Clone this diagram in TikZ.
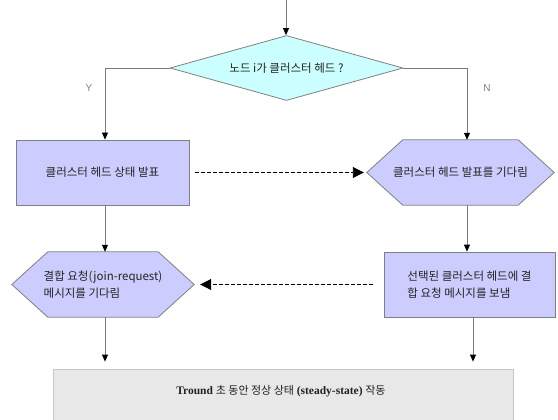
\documentclass[tikz,border=0pt]{standalone}
\usepackage{fontspec}
\setmainfont{Liberation Sans}
\newfontfamily\kr{Noto Sans CJK KR}
\newfontfamily\tms{Liberation Serif}
\usetikzlibrary{arrows.meta,shapes.geometric,calc,backgrounds}
\definecolor{lav}{HTML}{CCCCFF}
\definecolor{cyn}{HTML}{CCFFFF}
\definecolor{bgray}{HTML}{808080}
\definecolor{lgray}{HTML}{7A7A7A}
\definecolor{txt}{HTML}{222222}
\definecolor{boxfill}{HTML}{E8E8E8}
\definecolor{boxline}{HTML}{C8C8C8}
\begin{document}
\begin{tikzpicture}[x=1pt,y=-1pt,
  flow/.style={draw=lgray,line width=0.8pt,-{Triangle[length=7pt,width=6pt,color=black]}},
  dashflow/.style={draw=black,line width=0.9pt,dash pattern=on 3.5pt off 2.5pt,-{Triangle[length=11pt,width=11pt]}},
  ktext/.style={font=\kr\fontsize{11.5}{17}\selectfont,text=txt},
  proc/.style={ktext,rectangle,draw=bgray,fill=lav,line width=0.8pt,minimum width=#1,minimum height=65pt,inner sep=0pt,align=left},
  hexnode/.style={ktext,rectangle,minimum width=#1,minimum height=65pt,inner sep=0pt,align=left},
  hexfill/.style={fill=lav,draw=bgray,line width=0.8pt},
  decision/.style={ktext,diamond,aspect=3.6,draw=bgray,fill=cyn,line width=0.8pt,minimum width=233pt,minimum height=65pt,inner sep=0pt},
  lbl/.style={font=\fontsize{10}{11}\selectfont,text=bgray},
  endbox/.style={rectangle,draw=boxline,fill=boxfill,line width=0.8pt,minimum width=460pt,minimum height=72pt,inner sep=0pt}
]
\useasboundingbox (0,0) rectangle (558,420);

\coordinate (start) at (286,0);
\coordinate (xl) at (105,0);
\coordinate (xr) at (467,0);
\coordinate (xr2) at (473,0);

\node[decision] (d) at (286.5,68) {노드 i가 클러스터 헤드 ?};
\node[proc=173pt] (b1) at (102.5,172.5) {클러스터 헤드 상태 발표};
\node[hexnode=187pt] (h1) at (460.5,172.5) {클러스터 헤드 발표를 기다림};
\node[hexnode=182pt] (h2) at (103,284.5) {결합 요청(join-request)\\메시지를 기다림};
\node[proc=171pt] (b2) at (469.5,284.5) {선택된 클러스터 헤드에 결\\합 요청 메시지를 보냄};
\node[endbox] (bt) at (283,405) {};
\node[text=txt] (btt) at (281,391) {{\tms\bfseries\fontsize{11.5}{12}\selectfont Tround} {\kr\fontsize{11}{12}\selectfont 초 동안 정상 상태} {\tms\bfseries\fontsize{11.5}{12}\selectfont (steady-state)} {\kr\fontsize{11}{12}\selectfont 작동}};

\begin{scope}[on background layer]
\foreach \h in {h1,h2}{
  \path[hexfill] (\h.west) -- ($(\h.north west)+(36,0)$) -- ($(\h.north east)+(-36,0)$) -- (\h.east) -- ($(\h.south east)+(-36,0)$) -- ($(\h.south west)+(36,0)$) -- cycle;
}
\end{scope}

\node[lbl] (ylab) at (89,88) {Y};
\node[lbl] (nlab) at (487,88) {N};

\draw[flow] (start) -- (d.north -| start);
\draw[flow] (d.west) -| (b1.north -| xl);
\draw[flow] (d.east) -| (h1.north -| xr);
\draw[flow] (b1.south -| xl) -- (h2.north -| xl);
\draw[flow] (h1.south -| xr) -- (b2.north -| xr);
\draw[flow,shorten >=7pt] (h2.south -| xl) -- (bt.north -| xl);
\draw[flow,shorten >=7pt] (b2.south -| xr2) -- (bt.north -| xr2);
\draw[dashflow,shorten <=6pt,shorten >=3pt] (b1.east) -- (h1.west);
\draw[dashflow,shorten <=11pt,shorten >=6pt] (b2.west) -- (h2.east);
\end{tikzpicture}
\end{document}
